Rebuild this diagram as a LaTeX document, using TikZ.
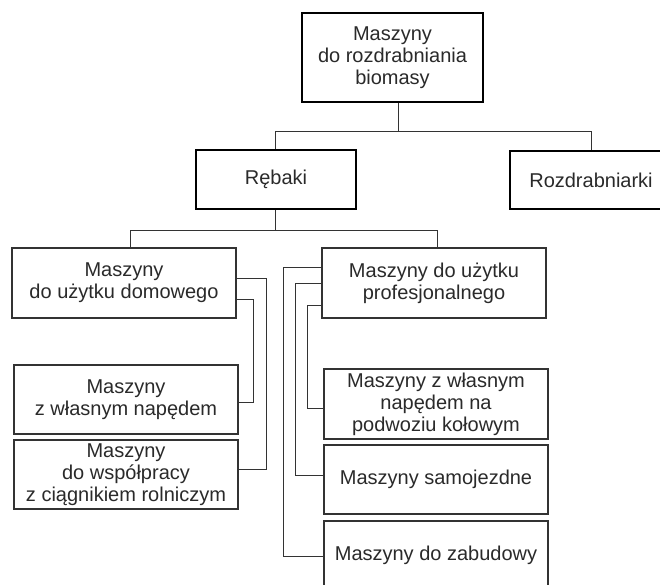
\documentclass[tikz,border=0pt]{standalone}
\usepackage{fontspec}
\setmainfont{Liberation Sans}
\definecolor{txt}{HTML}{2A2A2A}
\definecolor{ln}{HTML}{333333}
\tikzset{
  box/.style={draw=ln, line width=1.1pt, rectangle, inner sep=0pt, align=center,
    text=txt, font=\fontsize{20}{22}\selectfont, minimum width=224pt, minimum height=69pt},
  mainbox/.style={box, draw=black, line width=2pt},
  conn/.style={draw=ln, line width=1pt},
}
\begin{document}
\begin{tikzpicture}[x=1pt,y=-1pt]
\useasboundingbox (0,0) rectangle (660,584);
\fill[white] (0,0) rectangle (660,584);

\node[mainbox, minimum width=181pt, minimum height=89pt] (top) at (392.5,57.5) {Maszyny\\do rozdrabniania\\biomasy};
\node[mainbox, minimum width=160pt, minimum height=59pt] (reb) at (276,179.5) {Rębaki};
\node[mainbox, minimum width=162pt, minimum height=58pt] (roz) at (591,180) {Rozdrabniarki};

\node[box, minimum height=70pt] (dom) at (124,283) {Maszyny\\do użytku domowego};
\node[box] (nap) at (126,399.5) {Maszyny\\z własnym napędem};
\node[box] (wsp) at (126,474.5) {Maszyny\\do współpracy\\z ciągnikiem rolniczym};

\node[box, minimum height=70pt] (pro) at (434,283) {Maszyny do użytku\\profesjonalnego};
\node[box, minimum height=70pt] (kol) at (436,404) {Maszyny z własnym\\napędem na\\podwoziu kołowym};
\node[box] (sam) at (436,479.5) {Maszyny samojezdne};
\node[box, minimum height=68pt] (zab) at (436,555) {Maszyny do zabudowy};

\coordinate (j1) at (398,131);
\coordinate (j2) at (275,230);
\draw[conn] ([xshift=5.5pt]top.south) -- (j1) -| ([xshift=-1pt]reb.north);
\draw[conn] (j1) -| (roz.north);
\draw[conn] ([xshift=-1pt]reb.south) -- (j2) -| ([xshift=6pt]dom.north);
\draw[conn] (j2) -| ([xshift=3pt]pro.north);

\draw[conn] ([yshift=-31pt]dom.north east) -- ++(30,0) |- ([yshift=5.5pt]wsp.east);
\draw[conn] ([yshift=-52pt]dom.north east) -- ++(17,0) |- ([yshift=-2.5pt]nap.east);

\draw[conn] ([yshift=-20pt]pro.north west) -- ++(-38,0) |- ([yshift=-1pt]zab.west);
\draw[conn] ([yshift=-36pt]pro.north west) -- ++(-26,0) |- ([yshift=4.5pt]sam.west);
\draw[conn] ([yshift=-58pt]pro.north west) -- ++(-14,0) |- ([yshift=-4pt]kol.west);
\end{tikzpicture}
\end{document}
